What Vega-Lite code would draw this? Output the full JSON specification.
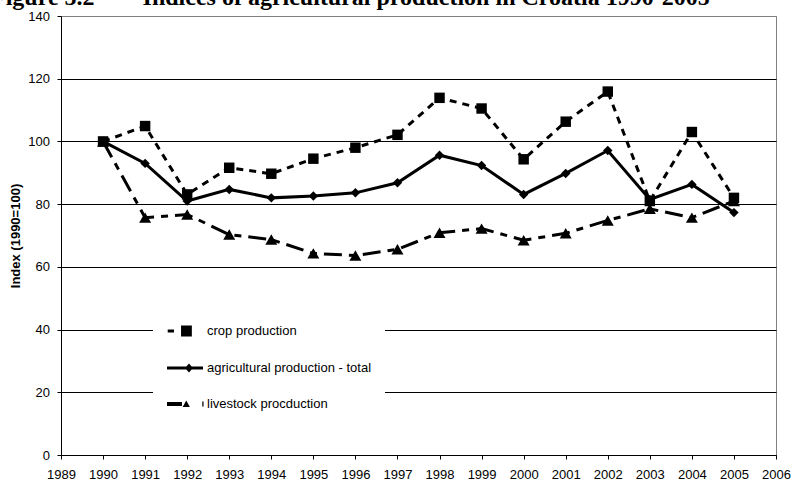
{
  "$schema": "https://vega.github.io/schema/vega-lite/v6.json",
  "autosize": "none",
  "width": 715,
  "height": 439,
  "padding": {"left": 61, "top": 16, "right": 15, "bottom": 25},
  "background": "white",
  "title": {
    "text": "Figure 5.2\u00a0\u00a0\u00a0\u00a0\u00a0– Indices of agricultural production in Croatia 1990-2005",
    "anchor": "start",
    "frame": "group",
    "font": "Liberation Serif",
    "fontSize": 24,
    "fontWeight": "bold",
    "color": "black",
    "baseline": "alphabetic",
    "offset": 0,
    "dx": -70,
    "dy": 19
  },
  "config": {
    "view": {"stroke": "#808080", "strokeWidth": 1},
    "axis": {
      "labelFont": "Liberation Sans",
      "labelFontSize": 13,
      "labelColor": "black",
      "titleFont": "Liberation Sans",
      "titleColor": "black",
      "domainColor": "black",
      "tickColor": "black",
      "tickSize": 4
    }
  },
  "data": {
    "values": [
      {"series": "livestock procduction", "year": 1990, "value": 100},
      {"series": "livestock procduction", "year": 1991, "value": 75.7},
      {"series": "livestock procduction", "year": 1992, "value": 76.7},
      {"series": "livestock procduction", "year": 1993, "value": 70.3},
      {"series": "livestock procduction", "year": 1994, "value": 68.7},
      {"series": "livestock procduction", "year": 1995, "value": 64.3},
      {"series": "livestock procduction", "year": 1996, "value": 63.6},
      {"series": "livestock procduction", "year": 1997, "value": 65.6},
      {"series": "livestock procduction", "year": 1998, "value": 70.9},
      {"series": "livestock procduction", "year": 1999, "value": 72.2},
      {"series": "livestock procduction", "year": 2000, "value": 68.5},
      {"series": "livestock procduction", "year": 2001, "value": 70.7},
      {"series": "livestock procduction", "year": 2002, "value": 74.8},
      {"series": "livestock procduction", "year": 2003, "value": 78.5},
      {"series": "livestock procduction", "year": 2004, "value": 75.7},
      {"series": "livestock procduction", "year": 2005, "value": 81},
      {"series": "agricultural production - total", "year": 1990, "value": 100},
      {"series": "agricultural production - total", "year": 1991, "value": 93},
      {"series": "agricultural production - total", "year": 1992, "value": 81},
      {"series": "agricultural production - total", "year": 1993, "value": 84.7},
      {"series": "agricultural production - total", "year": 1994, "value": 82},
      {"series": "agricultural production - total", "year": 1995, "value": 82.6},
      {"series": "agricultural production - total", "year": 1996, "value": 83.6},
      {"series": "agricultural production - total", "year": 1997, "value": 86.8},
      {"series": "agricultural production - total", "year": 1998, "value": 95.6},
      {"series": "agricultural production - total", "year": 1999, "value": 92.3},
      {"series": "agricultural production - total", "year": 2000, "value": 83.1},
      {"series": "agricultural production - total", "year": 2001, "value": 89.8},
      {"series": "agricultural production - total", "year": 2002, "value": 97.1},
      {"series": "agricultural production - total", "year": 2003, "value": 81.5},
      {"series": "agricultural production - total", "year": 2004, "value": 86.3},
      {"series": "agricultural production - total", "year": 2005, "value": 77.3},
      {"series": "crop production", "year": 1990, "value": 100},
      {"series": "crop production", "year": 1991, "value": 104.9},
      {"series": "crop production", "year": 1992, "value": 83.1},
      {"series": "crop production", "year": 1993, "value": 91.6},
      {"series": "crop production", "year": 1994, "value": 89.7},
      {"series": "crop production", "year": 1995, "value": 94.5},
      {"series": "crop production", "year": 1996, "value": 98},
      {"series": "crop production", "year": 1997, "value": 102.1},
      {"series": "crop production", "year": 1998, "value": 113.9},
      {"series": "crop production", "year": 1999, "value": 110.5},
      {"series": "crop production", "year": 2000, "value": 94.3},
      {"series": "crop production", "year": 2001, "value": 106.3},
      {"series": "crop production", "year": 2002, "value": 115.9},
      {"series": "crop production", "year": 2003, "value": 81},
      {"series": "crop production", "year": 2004, "value": 103},
      {"series": "crop production", "year": 2005, "value": 82}
    ]
  },
  "encoding": {
    "x": {
      "field": "year",
      "type": "quantitative",
      "scale": {"domain": [1989, 2006], "nice": false, "zero": false},
      "axis": {
        "title": null,
        "values": [1989, 1990, 1991, 1992, 1993, 1994, 1995, 1996, 1997, 1998, 1999, 2000, 2001, 2002, 2003, 2004, 2005, 2006],
        "format": "d",
        "grid": false,
        "labelPadding": 9,
        "labelFlush": false,
        "labelOverlap": false
      }
    },
    "y": {
      "field": "value",
      "type": "quantitative",
      "scale": {"domain": [0, 140], "nice": false},
      "axis": {
        "title": "Index (1990=100)",
        "titleFontSize": 13,
        "titleFontWeight": "bold",
        "titleX": -46,
        "titleY": 219.5,
        "titleAngle": 270,
        "titleAlign": "center",
        "titleBaseline": "middle",
        "values": [0, 20, 40, 60, 80, 100, 120, 140],
        "grid": true,
        "gridColor": {"condition": {"test": "datum.value === 140", "value": "#808080"}, "value": "black"},
        "gridOpacity": 1,
        "gridWidth": 1,
        "labelPadding": 7.5
      }
    }
  },
  "resolve": {"scale": {"shape": "independent"}, "legend": {"shape": "independent"}},
  "layer": [
    {
      "transform": [{"filter": {"field": "series", "equal": "livestock procduction"}}],
      "mark": {"type": "line", "color": "black", "strokeWidth": 3, "strokeCap": "butt", "strokeDash": [18, 7, 7, 7]},
      "encoding": {"order": {"field": "year"}}
    },
    {
      "transform": [{"filter": {"field": "series", "equal": "agricultural production - total"}}],
      "mark": {"type": "line", "color": "black", "strokeWidth": 3, "strokeCap": "butt"},
      "encoding": {"order": {"field": "year"}}
    },
    {
      "transform": [{"filter": {"field": "series", "equal": "crop production"}}],
      "mark": {"type": "line", "color": "black", "strokeWidth": 3, "strokeCap": "butt", "strokeDash": [7, 6]},
      "encoding": {"order": {"field": "year"}}
    },
    {
      "mark": {"type": "point", "filled": true, "color": "black", "opacity": 1, "strokeWidth": 0, "size": 121},
      "encoding": {
        "shape": {
          "field": "series",
          "type": "nominal",
          "scale": {
            "domain": ["crop production", "agricultural production - total", "livestock procduction"],
            "range": ["M-0.95,-0.95L0.95,-0.95L0.95,0.95L-0.95,0.95Z", "M-0.86,0L0,-0.86L0.86,0L0,0.86Z", "M-1.09,0.95L0,-0.95L1.09,0.95Z"]
          },
          "legend": null
        }
      }
    },
    {
      "mark": {"type": "point", "filled": true, "color": "black", "opacity": 0, "strokeWidth": 0, "size": 121},
      "encoding": {
        "shape": {
          "field": "series",
          "type": "nominal",
          "scale": {
            "domain": ["crop production", "agricultural production - total", "livestock procduction"],
            "range": [
              "M-0.96,-0.083L-0.61,-0.083L-0.61,0.083L-0.96,0.083Z M-0.22,-0.3L0.38,-0.3L0.38,0.3L-0.22,0.3Z",
              "M-1,-0.08L1,-0.08L1,0.08L-1,0.08Z M0,0L0.22,-0.25L0.44,0L0.22,0.25Z",
              "M-1,-0.11L-0.17,-0.11L-0.17,0.11L-1,0.11Z M-0.13,0.17L0.07,-0.2L0.27,0.17Z M0.96,-0.14L1.03,-0.14L1.03,0.14L0.96,0.14Z"
            ]
          },
          "legend": {
            "title": null,
            "orient": "none",
            "legendX": 92,
            "legendY": 283,
            "fillColor": "white",
            "padding": 13,
            "rowPadding": 9,
            "labelFont": "Liberation Sans",
            "labelFontSize": 13,
            "labelColor": "black",
            "labelOffset": 3,
            "labelLimit": 400,
            "symbolSize": 1296,
            "encode": {
              "symbols": {
                "update": {
                  "size": {"value": 1296},
                  "fill": {"value": "black"},
                  "fillOpacity": {"value": 1},
                  "stroke": {"value": "transparent"},
                  "strokeWidth": {"value": 0},
                  "opacity": {"value": 1}
                }
              }
            }
          }
        }
      }
    }
  ]
}
